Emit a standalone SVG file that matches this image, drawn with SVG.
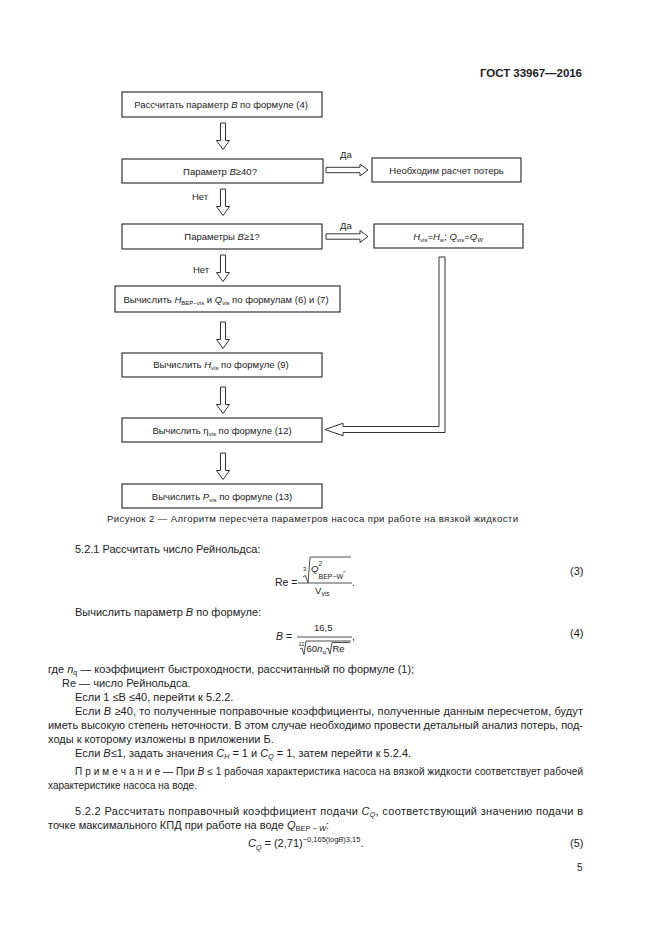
<svg xmlns="http://www.w3.org/2000/svg" width="661" height="936" viewBox="0 0 661 936">
<style>
text{font-family:"Liberation Sans",Arial,sans-serif;fill:#222}
.bx{fill:#fff;stroke:#222;stroke-width:1.1}
.ar{fill:#fff;stroke:#333;stroke-width:1}
.t9{font-size:9.5px}
.t11{font-size:11px}
.t10{font-size:10.5px}
.n{font-size:9.5px}
.i{font-style:italic}
.rad{fill:none;stroke:#222;stroke-width:0.8}
</style>
<defs>
<path id="down" d="M-2.5,0 H2.5 V17.5 H6.5 L0,26.5 L-6.5,17.5 H-2.5 Z"/>
<path id="right" d="M0,-2.7 H34 V-6 L42,0 L34,6 V2.7 H0 Z"/>
</defs>
<rect width="661" height="936" fill="#fff"/>
<text x="582" y="77" text-anchor="end" style="font-size:11.5px;font-weight:bold" textLength="102">ГОСТ  33967—2016</text>

<g id="connectors">
<use href="#down" class="ar" x="223" y="123"/>
<use href="#down" class="ar" x="223" y="189"/>
<use href="#down" class="ar" x="223" y="255"/>
<use href="#down" class="ar" x="223" y="322"/>
<use href="#down" class="ar" x="223" y="387"/>
<use href="#down" class="ar" x="223" y="453"/>
<use href="#right" class="ar" x="326" y="170"/>
<use href="#right" class="ar" x="326" y="236.5"/>
<polygon class="ar" points="439,257 445,257 445,432.5 343,432.5 343,435.8 325,429.5 343,423.2 343,426.5 439,426.5"/>
<text class="t9" x="340" y="158">Да</text>
<text class="t9" x="340" y="229">Да</text>
<text class="t9" x="192" y="199.5">Нет</text>
<text class="t9" x="193" y="272.5">Нет</text>
</g>

<g id="n1"><rect class="bx" x="122" y="92" width="200" height="25"/>
<text class="t9" x="221" y="108" text-anchor="middle">Рассчитать параметр <tspan class="i">B</tspan> по формуле (4)</text></g>
<g id="n2"><rect class="bx" x="122" y="159" width="201" height="24"/>
<text class="t9" x="220" y="174.5" text-anchor="middle">Параметр <tspan class="i">B</tspan>≥40?</text></g>
<g id="n3"><rect class="bx" x="122" y="224" width="200" height="25"/>
<text class="t9" x="222" y="240" text-anchor="middle">Параметры <tspan class="i">B</tspan>≥1?</text></g>
<g id="n4"><rect class="bx" x="115" y="286" width="225" height="26"/>
<text class="t9" x="226" y="302.5" text-anchor="middle">Вычислить <tspan class="i">H</tspan><tspan font-size="6" dy="2">BEP−vis</tspan><tspan dy="-2"> и </tspan><tspan class="i">Q</tspan><tspan font-size="6" dy="2">vis</tspan><tspan dy="-2"> по формулам (6) и (7)</tspan></text></g>
<g id="n5"><rect class="bx" x="122" y="353" width="200" height="24"/>
<text class="t9" x="221" y="367.5" text-anchor="middle">Вычислить <tspan class="i">H</tspan><tspan font-size="6" dy="2">vis</tspan><tspan dy="-2"> по формуле (9)</tspan></text></g>
<g id="n6"><rect class="bx" x="122" y="418" width="200" height="24"/>
<text class="t9" x="222" y="434" text-anchor="middle">Вычислить η<tspan font-size="6" dy="2">vis</tspan><tspan dy="-2"> по формуле (12)</tspan></text></g>
<g id="n7"><rect class="bx" x="122" y="484" width="200" height="24"/>
<text class="t9" x="222" y="500" text-anchor="middle">Вычислить <tspan class="i">P</tspan><tspan font-size="6" dy="2">vis</tspan><tspan dy="-2"> по формуле (13)</tspan></text></g>
<g id="n8"><rect class="bx" x="372" y="158" width="149" height="24"/>
<text class="t9" x="446.5" y="173.5" text-anchor="middle">Необходим расчет потерь</text></g>
<g id="n9"><rect class="bx" x="374" y="224" width="149" height="24"/>
<text class="t9" x="448" y="240" text-anchor="middle"><tspan class="i">H</tspan><tspan font-size="6" dy="2">vis</tspan><tspan dy="-2">=</tspan><tspan class="i">H</tspan><tspan font-size="6" dy="2">w</tspan><tspan dy="-2">; </tspan><tspan class="i">Q</tspan><tspan font-size="6" dy="2">vis</tspan><tspan dy="-2">=</tspan><tspan class="i">Q</tspan><tspan class="i" font-size="6" dy="2">W</tspan></text></g>

<text x="312.5" y="522" text-anchor="middle" textLength="411" style="font-size:9.6px">Рисунок 2 — Алгоритм пересчета параметров насоса при работе на вязкой жидкости</text>

<text class="t11" x="75" y="553">5.2.1  Рассчитать число Рейнольдса:</text>

<text class="t10" x="275" y="586">Re =</text>
<path class="rad" d="M303,577 L305.5,575.5 L308,583 L310,557 H351"/>
<text x="303" y="571" font-size="6">3</text>
<text class="n i" x="311" y="572">Q</text>
<text x="318.5" y="566" font-size="6.5">2</text>
<text x="318.5" y="578.5" font-size="7">BEP−W</text>
<text x="343" y="575" font-size="6">″</text>
<line x1="298" y1="583" x2="352" y2="583" stroke="#222" stroke-width="0.8"/>
<text class="n" x="315" y="594">V</text>
<text x="321.5" y="596" font-size="6.5">vis</text>
<text class="t10" x="352" y="586">.</text>
<text class="t11" x="570" y="575">(3)</text>

<text class="t11" x="75" y="616">Вычислить параметр <tspan class="i">B</tspan> по формуле:</text>

<text class="t10" x="276" y="640"><tspan class="i">B</tspan> =</text>
<text class="n" x="314" y="631">16,5</text>
<line x1="297" y1="637" x2="352" y2="637" stroke="#222" stroke-width="0.8"/>
<text x="298.5" y="646" font-size="5.5">12</text>
<path class="rad" d="M300,649 L302,648 L304,654.5 L306,641 H351"/>
<text class="n" x="306.5" y="652">60<tspan class="i">n</tspan><tspan font-size="6" dy="2">q</tspan></text>
<path class="rad" d="M326,649 L328,648 L330,654 L332,642.5 H350"/>
<text class="n" x="332.5" y="652">Re</text>
<text class="t10" x="352" y="640">,</text>
<text class="t11" x="570" y="637">(4)</text>

<text class="t11" x="48" y="673">где <tspan class="i">n</tspan><tspan font-size="7" dy="2">q</tspan><tspan dy="-2"> — коэффициент быстроходности, рассчитанный по формуле (1);</tspan></text>
<text class="t11" x="62" y="687">Re — число Рейнольдса.</text>
<text class="t11" x="75" y="701">Если 1 ≤B ≤40, перейти к 5.2.2.</text>
<text class="t11" x="75" y="715" textLength="508" lengthAdjust="spacing">Если <tspan class="i">B</tspan> ≥40, то полученные поправочные коэффициенты, полученные данным пересчетом, будут</text>
<text class="t11" x="48" y="729" textLength="535" lengthAdjust="spacing">иметь высокую степень неточности. В этом случае необходимо провести детальный анализ потерь, под-</text>
<text class="t11" x="48" y="743">ходы к которому изложены в приложении Б.</text>
<text class="t11" x="75" y="757">Если <tspan class="i">B</tspan>≤1, задать значения <tspan class="i">C</tspan><tspan class="i" font-size="7" dy="2">H</tspan><tspan dy="-2"> = 1 и </tspan><tspan class="i">C</tspan><tspan class="i" font-size="7" dy="2">Q</tspan><tspan dy="-2"> = 1, затем перейти к 5.2.4.</tspan></text>

<text x="75" y="775" style="font-size:10px" textLength="508" lengthAdjust="spacing">П р и м е ч а н и е — При <tspan class="i">B</tspan> ≤ 1 рабочая характеристика насоса на вязкой жидкости соответствует рабочей</text>
<text x="48" y="789" style="font-size:10px">характеристике насоса на воде.</text>

<text class="t11" x="75" y="815" textLength="508" lengthAdjust="spacing">5.2.2 Рассчитать поправочный коэффициент подачи <tspan class="i">C</tspan><tspan class="i" font-size="7" dy="2">Q</tspan><tspan dy="-2">, соответствующий значению подачи в</tspan></text>
<text class="t11" x="48" y="829">точке максимального КПД при работе на воде <tspan class="i">Q</tspan><tspan font-size="7.5" dy="2">BEP − <tspan class="i">W</tspan></tspan><tspan dy="-2">:</tspan></text>

<text class="t11" x="248" y="847"><tspan class="i">C</tspan><tspan class="i" font-size="7" dy="2.5">Q</tspan><tspan dy="-2.5"> = (2,71)</tspan><tspan font-size="7.5" dy="-5">−0,165(log<tspan class="i">B</tspan>)3,15</tspan><tspan dy="5">.</tspan></text>
<text class="t11" x="570" y="847">(5)</text>
<text x="577" y="871" style="font-size:10px">5</text>
</svg>
